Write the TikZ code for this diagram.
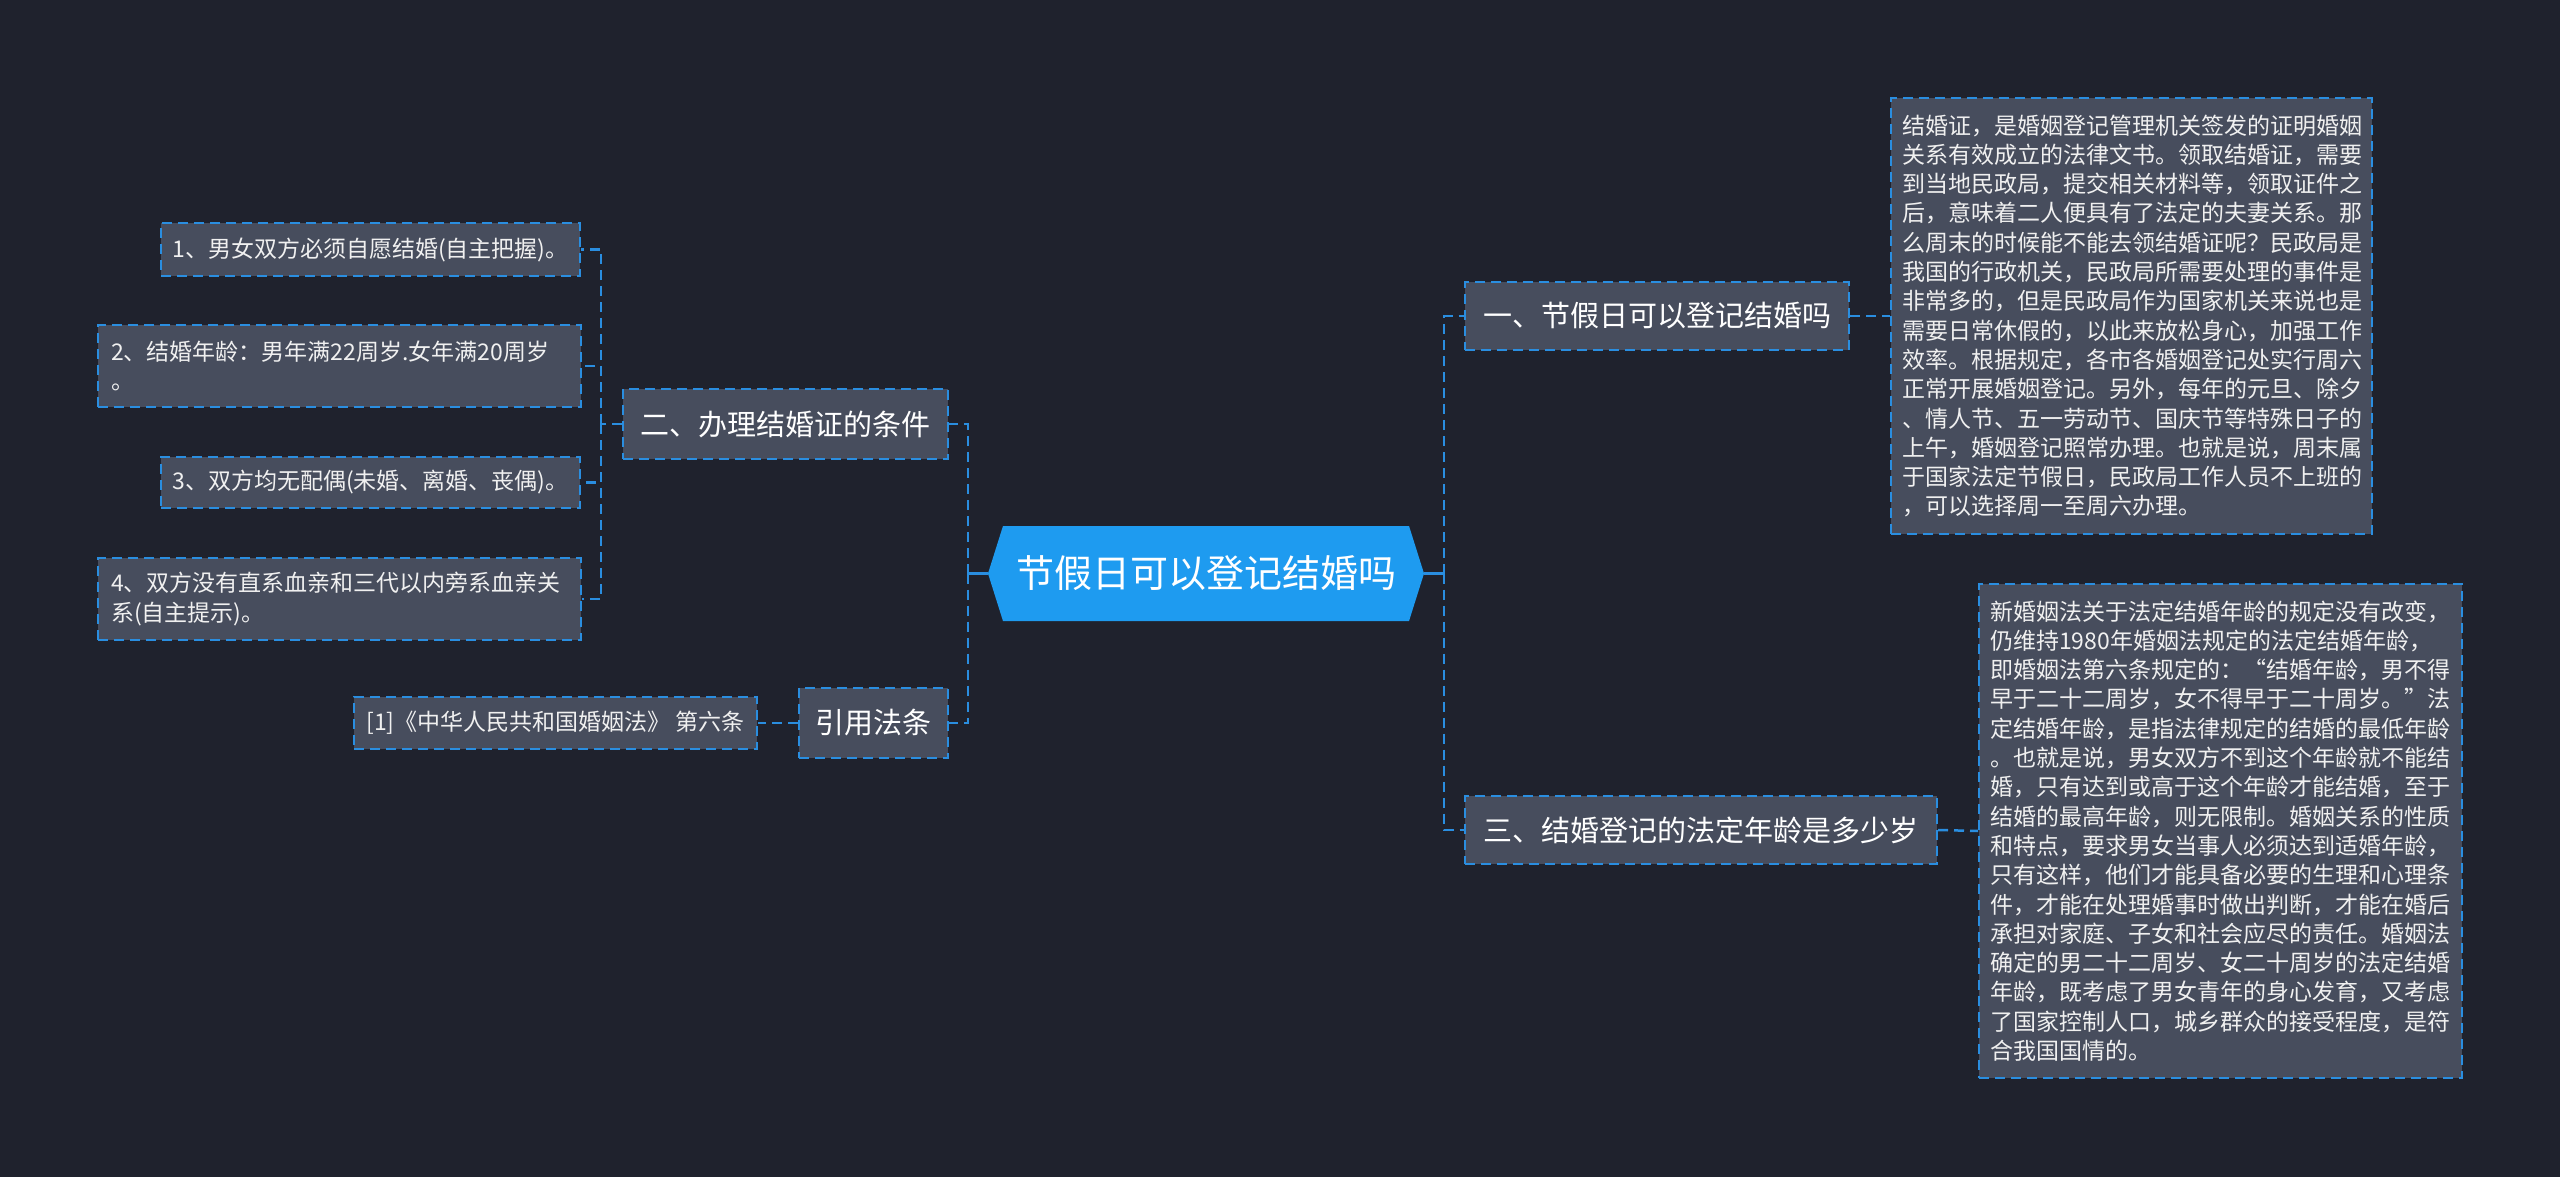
\documentclass[tikz,border=0pt]{standalone}
\usepackage{fontspec}
\setmainfont{Noto Sans CJK SC}
\usepackage{xcolor}
\definecolor{cBg}{HTML}{1F222D}
\definecolor{cBox}{HTML}{474D5D}
\definecolor{cLine}{HTML}{2A8EE0}
\definecolor{cRoot}{HTML}{1E9BF0}
\definecolor{cText}{HTML}{F0F0F0}
\usepackage{tikz}
\usetikzlibrary{shapes.symbols}
\tikzset{
  node-root/.style={signal,signal to=west and east,signal pointer angle=145,
    fill=cRoot,text=white,minimum width=436pt,minimum height=95pt,
    inner sep=0pt,font=\fontsize{38}{44}\selectfont},
  node-topic/.style={draw=cLine,line width=2pt,dash pattern=on 10pt off 6pt,
    fill=cBox,text=white,minimum height=68pt,inner sep=0pt,
    font=\fontsize{29}{34}\selectfont},
  node-leaf/.style={draw=cLine,line width=2pt,dash pattern=on 10pt off 6pt,
    fill=cBox,text=cText,inner sep=0pt,font=\fontsize{23}{29.3}\selectfont},
  node-note/.style={node-leaf,align=left},
  link/.style={draw=cLine,line width=2.5pt,dash pattern=on 10pt off 6pt},
  link-root/.style={draw=cLine,line width=2.5pt},
}

\begin{document}
\begin{tikzpicture}[x=1pt,y=-1pt]
  \fill[cBg] (0,0) rectangle (2560,1177);
  \useasboundingbox (0,0) rectangle (2560,1177);
  % centre
  \node[node-root] (root) at (1206,573.5) {节假日可以登记结婚吗};
  % right branches
  \node[node-topic,minimum width=384pt] (jiari) at (1657,316)
    {一、节假日可以登记结婚吗};
  \node[node-topic,minimum width=472pt] (nianling) at (1701,830)
    {三、结婚登记的法定年龄是多少岁};
  \node[node-note,minimum width=481pt,minimum height=436pt,text width=459pt]
    (jiari-note) at (2131.5,316) {结婚证，是婚姻登记管理机关签发的证明婚姻\\
    关系有效成立的法律文书。领取结婚证，需要\\
    到当地民政局，提交相关材料等，领取证件之\\
    后，意味着二人便具有了法定的夫妻关系。那\\
    么周末的时候能不能去领结婚证呢？民政局是\\
    我国的行政机关，民政局所需要处理的事件是\\
    非常多的，但是民政局作为国家机关来说也是\\
    需要日常休假的，以此来放松身心，加强工作\\
    效率。根据规定，各市各婚姻登记处实行周六\\
    正常开展婚姻登记。另外，每年的元旦、除夕\\
    、情人节、五一劳动节、国庆节等特殊日子的\\
    上午，婚姻登记照常办理。也就是说，周末属\\
    于国家法定节假日，民政局工作人员不上班的\\
    ，可以选择周一至周六办理。};
  \node[node-note,minimum width=483pt,minimum height=494pt,text width=461pt]
    (nianling-note) at (2220.5,831) {新婚姻法关于法定结婚年龄的规定没有改变，\\
    仍维持1980年婚姻法规定的法定结婚年龄，\\
    即婚姻法第六条规定的：“结婚年龄，男不得\\
    早于二十二周岁，女不得早于二十周岁。”法\\
    定结婚年龄，是指法律规定的结婚的最低年龄\\
    。也就是说，男女双方不到这个年龄就不能结\\
    婚，只有达到或高于这个年龄才能结婚，至于\\
    结婚的最高年龄，则无限制。婚姻关系的性质\\
    和特点，要求男女当事人必须达到适婚年龄，\\
    只有这样，他们才能具备必要的生理和心理条\\
    件，才能在处理婚事时做出判断，才能在婚后\\
    承担对家庭、子女和社会应尽的责任。婚姻法\\
    确定的男二十二周岁、女二十周岁的法定结婚\\
    年龄，既考虑了男女青年的身心发育，又考虑\\
    了国家控制人口，城乡群众的接受程度，是符\\
    合我国国情的。};
  % left branches
  \node[node-topic,minimum width=325pt,minimum height=70pt] (tiaojian)
    at (785.5,424) {二、办理结婚证的条件};
  \node[node-topic,minimum width=149pt,minimum height=70pt] (fatiao)
    at (873.5,723) {引用法条};
  \node[node-leaf,minimum width=403pt,minimum height=52pt] (fatiao-src)
    at (555.5,723) {[1]《中华人民共和国婚姻法》 第六条};
  \node[node-leaf,minimum width=419pt,minimum height=53pt] (tj-1)
    at (370.5,249.5) {1、男女双方必须自愿结婚(自主把握)。};
  \node[node-note,minimum width=483pt,minimum height=82pt,text width=457pt]
    (tj-2) at (339.5,366) {2、结婚年龄：男年满22周岁.女年满20周岁\\。};
  \node[node-leaf,minimum width=419pt,minimum height=51pt] (tj-3)
    at (370.5,482.5) {3、双方均无配偶(未婚、离婚、丧偶)。};
  \node[node-note,minimum width=483pt,minimum height=82pt,text width=457pt]
    (tj-4) at (339.5,599) {4、双方没有直系血亲和三代以内旁系血亲关\\系(自主提示)。};
  % connectors
  \coordinate (jr) at (1444,573.5);
  \coordinate (jl) at (968,573.5);
  \coordinate (jl2) at (601,424);
  \draw[link-root] (root.east) -- (jr);
  \draw[link] (jr) |- (jiari.west);
  \draw[link] (jr) |- (nianling.west);
  \draw[link] (jiari.east) -- (jiari-note.west);
  \draw[link] (nianling.east) -- (nianling-note.west);
  \draw[link-root] (root.west) -- (jl);
  \draw[link] (jl) |- (tiaojian.east);
  \draw[link] (jl) |- (fatiao.east);
  \draw[link] (fatiao.west) -- (fatiao-src.east);
  \draw[link] (tiaojian.west) -- (jl2);
  \foreach \leaf in {tj-1,tj-2,tj-3,tj-4}
    \draw[link] (jl2) |- (\leaf.east);
\end{tikzpicture}
\end{document}
